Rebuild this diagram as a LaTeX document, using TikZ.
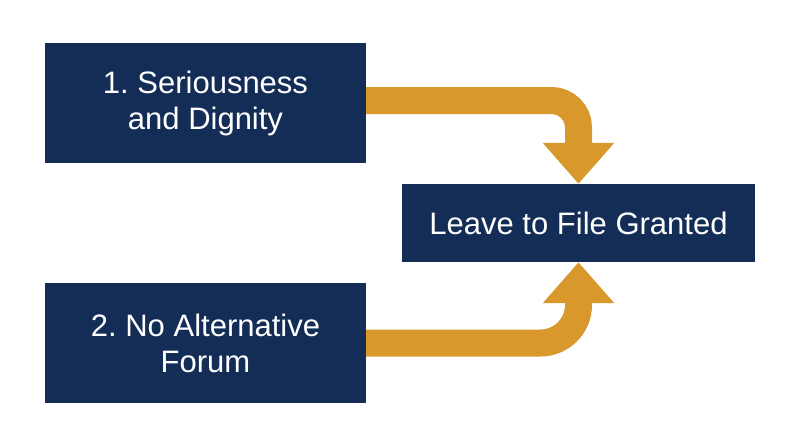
\documentclass[tikz,border=0pt]{standalone}
\usepackage{fontspec}
\setmainfont{Liberation Sans}
\usetikzlibrary{positioning,arrows.meta}

\definecolor{navy}{RGB}{20,45,86}
\definecolor{gold}{RGB}{216,152,44}

\begin{document}
\frenchspacing
\begin{tikzpicture}[x=1pt,y=-1pt,
    box/.style={fill=navy, text=white, inner sep=0pt, align=center,
                font=\fontsize{31}{36}\selectfont},
    band/.style={draw=gold, line width=27pt,
                 -{Triangle[length=41pt,width=69pt]}}]

  \useasboundingbox (0,0) rectangle (800,447);

  \node[box, minimum width=321pt, minimum height=120pt] (serious) at (205.5,103)
       {1. Seriousness\\and Dignity};
  \node[box, minimum width=321pt, minimum height=120pt] (forum) at (205.5,343)
       {2. No Alternative\\Forum};
  \node[box, minimum width=353pt, minimum height=78pt] (granted) at (578.5,223)
       {Leave to File Granted};

  \draw[band, rounded corners=27pt] ([yshift=2.5pt]serious.east) -| (granted.north);
  \draw[band, rounded corners=38pt] (forum.east) -| (granted.south);

\end{tikzpicture}
\end{document}
